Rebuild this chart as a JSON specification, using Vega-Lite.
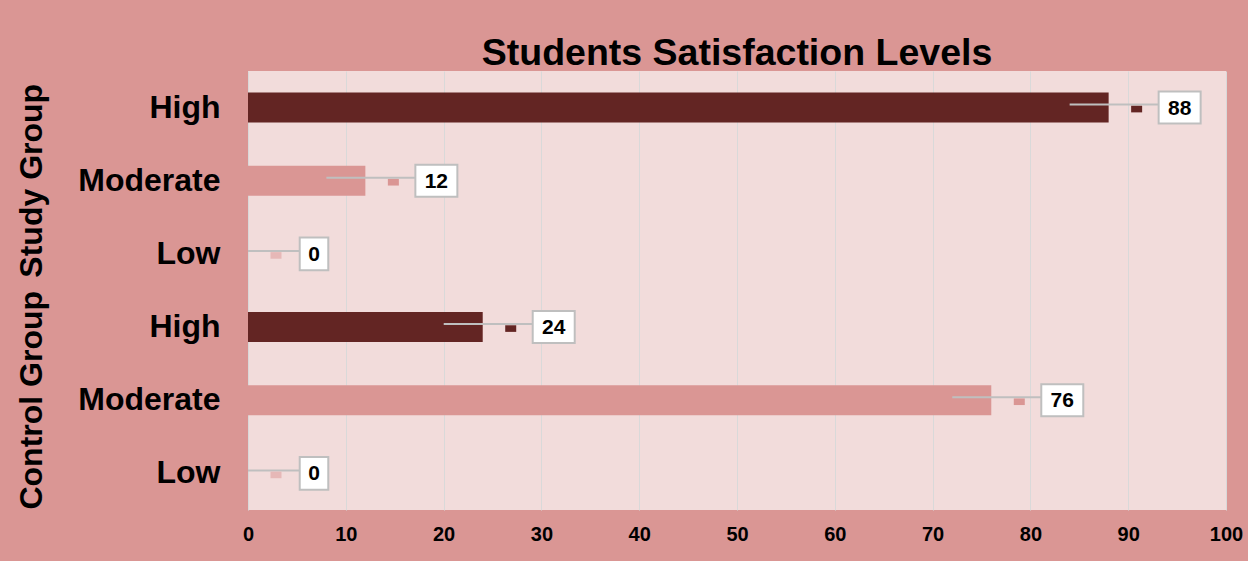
{
  "$schema": "https://vega.github.io/schema/vega-lite/v6.json",
  "width": 978,
  "height": 439,
  "autosize": {"type": "none"},
  "padding": {"left": 248, "top": 71, "right": 22, "bottom": 51},
  "background": "#DA9694",
  "config": {"view": {"fill": "#F2DCDB", "stroke": null}, "font": "Liberation Sans"},
  "title": {"text": "Students Satisfaction Levels", "fontSize": 37.5, "font": "Liberation Sans", "fontWeight": "bold", "color": "#000000", "anchor": "middle", "offset": -1},
  "datasets": {
    "bars": [
      {"group": "Study Group", "level": "High", "key": "Study Group|High", "value": 88},
      {"group": "Study Group", "level": "Moderate", "key": "Study Group|Moderate", "value": 12},
      {"group": "Study Group", "level": "Low", "key": "Study Group|Low", "value": 0},
      {"group": "Control Group", "level": "High", "key": "Control Group|High", "value": 24},
      {"group": "Control Group", "level": "Moderate", "key": "Control Group|Moderate", "value": 76},
      {"group": "Control Group", "level": "Low", "key": "Control Group|Low", "value": 0}
    ],
    "groups": [{"group": "Study Group"}, {"group": "Control Group"}]
  },
  "layer": [
    {
      "data": {"name": "bars"},
      "encoding": {
        "y": {
          "field": "key", "type": "nominal",
          "sort": ["Study Group|High", "Study Group|Moderate", "Study Group|Low", "Control Group|High", "Control Group|Moderate", "Control Group|Low"],
          "scale": {"type": "band", "paddingInner": 0.59, "paddingOuter": 0.295},
          "axis": {"title": null, "labelExpr": "split(datum.label, '|')[1]", "labelFont": "Liberation Sans", "labelFontSize": 32, "labelFontWeight": "bold", "labelColor": "#000000", "ticks": false, "tickSize": 0, "domain": false, "grid": false, "labelPadding": 28, "labelLimit": 400}
        }
      },
      "layer": [
        {
          "mark": {"type": "bar"},
          "encoding": {
            "x": {
              "field": "value", "type": "quantitative",
              "scale": {"domain": [0, 100], "nice": false},
              "axis": {"title": null, "values": [0, 10, 20, 30, 40, 50, 60, 70, 80, 90, 100], "grid": true, "gridColor": "#D9D9D9", "gridWidth": 1, "domain": false, "ticks": false, "tickSize": 0, "labelFont": "Liberation Sans", "labelFontSize": 20, "labelFontWeight": "bold", "labelColor": "#000000", "labelPadding": 14, "labelFlush": false}
            },
            "color": {"field": "level", "type": "nominal", "scale": {"domain": ["High", "Moderate", "Low"], "range": ["#632523", "#DA9694", "#E6B8B7"]}, "legend": null}
          }
        },
        {
          "mark": {"type": "rule", "clip": true, "xOffset": -39, "x2Offset": {"expr": "datum.value < 10 ? 52 : 50"}, "yOffset": -3, "color": "#BFBFBF", "strokeWidth": 2},
          "encoding": {
            "x": {"field": "value", "type": "quantitative"},
            "x2": {"field": "value"}
          }
        },
        {
          "mark": {"type": "point", "filled": true, "opacity": 1, "xOffset": 28, "yOffset": 1.5, "size": 121, "shape": "M-1,-0.6L1,-0.6L1,0.6L-1,0.6Z", "strokeWidth": 0},
          "encoding": {
            "x": {"field": "value", "type": "quantitative"},
            "color": {"field": "level", "type": "nominal", "legend": null}
          }
        },
        {
          "mark": {"type": "point", "filled": true, "opacity": 1, "fill": "#FFFFFF", "stroke": "#BFBFBF", "strokeWidth": 2, "size": 1764, "xOffset": {"expr": "datum.value < 10 ? 66 : 71"}},
          "encoding": {
            "x": {"field": "value", "type": "quantitative"},
            "shape": {"condition": {"test": "datum.value < 10", "value": "M-0.68,-0.78L0.68,-0.78L0.68,0.78L-0.68,0.78Z"}, "value": "M-1,-0.76L1,-0.76L1,0.76L-1,0.76Z"}
          }
        },
        {
          "mark": {"type": "text", "font": "Liberation Sans", "fontSize": 21, "fontWeight": "bold", "color": "#000000", "align": "center", "baseline": "middle", "dx": {"expr": "datum.value < 10 ? 66 : 71"}, "dy": 1},
          "encoding": {
            "x": {"field": "value", "type": "quantitative"},
            "text": {"field": "value", "type": "quantitative"}
          }
        }
      ]
    },
    {
      "data": {"name": "groups"},
      "mark": {"type": "point", "opacity": 0},
      "encoding": {
        "y": {
          "field": "group", "type": "nominal",
          "sort": ["Study Group", "Control Group"],
          "scale": {"type": "band", "paddingInner": 0, "paddingOuter": 0},
          "axis": {"orient": "left", "title": null, "offset": 190, "labelPadding": 10, "ticks": false, "tickSize": 0, "domain": false, "grid": false, "labelAngle": -90, "labelAlign": "center", "labelBaseline": "bottom", "labelFont": "Liberation Sans", "labelFontSize": 32, "labelFontWeight": "bold", "labelColor": "#000000", "labelLimit": 0}
        }
      }
    }
  ],
  "resolve": {"scale": {"y": "independent"}, "axis": {"y": "independent"}}
}
